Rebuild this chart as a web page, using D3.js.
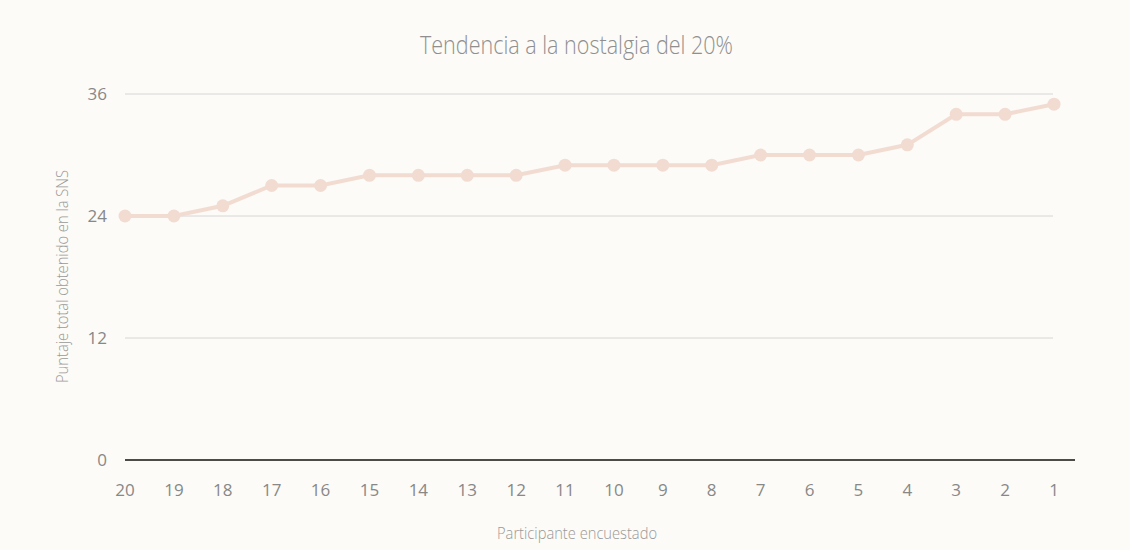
<!DOCTYPE html>
<html>
<head>
<meta charset="utf-8">
<script src="https://cdn.jsdelivr.net/npm/d3@7"></script>
<style>
  body { margin: 0; background: #fcfbf7; }
  text { font-family: "Open Sans", sans-serif; }
</style>
</head>
<body>
<svg id="chart" width="1130" height="550"></svg>
<script>
// participants, ordered as in the picture
var participants = ["20","19","18","17","16","15","14","13","12","11","10","9","8","7","6","5","4","3","2","1"];
var scores = [24,24,25,27,27,28,28,28,28,29,29,29,29,30,30,30,31,34,34,35];
var yTicks = [0, 12, 24, 36];

var title = "Tendencia a la nostalgia del 20%",
    xTitle = "Participante encuestado",
    yTitle = "Puntaje total obtenido en la SNS";

var svg = d3.select("#chart");

svg.append("rect")
    .attr("width", 1130)
    .attr("height", 550)
    .attr("fill", "#fcfbf7");

var x = d3.scalePoint()
    .domain(participants)
    .range([125, 1054]);

var y = d3.scaleLinear()
    .domain([0, 36])
    .range([460, 94]);

// gridlines
svg.append("g")
  .selectAll("line")
  .data(yTicks.filter(function(d) { return d > 0; }))
  .join("line")
    .attr("x1", 125)
    .attr("x2", 1053)
    .attr("y1", function(d) { return y(d); })
    .attr("y2", function(d) { return y(d); })
    .attr("stroke", "#d6d6d6")
    .attr("stroke-width", 1);

// baseline
svg.append("line")
    .attr("x1", 125)
    .attr("x2", 1075)
    .attr("y1", y(0))
    .attr("y2", y(0))
    .attr("stroke", "#111")
    .attr("stroke-width", 1.3);

// y tick labels
svg.append("g")
  .selectAll("text")
  .data(yTicks)
  .join("text")
    .attr("x", 107)
    .attr("y", function(d) { return y(d); })
    .attr("dy", "0.35em")
    .attr("text-anchor", "end")
    .attr("fill", "#888")
    .style("font-size", "17px")
    .text(function(d) { return d; });

// x tick labels
svg.append("g")
  .selectAll("text")
  .data(participants)
  .join("text")
    .attr("x", function(d) { return x(d); })
    .attr("y", 490)
    .attr("dy", "0.35em")
    .attr("text-anchor", "middle")
    .attr("fill", "#888")
    .style("font-size", "17px")
    .text(function(d) { return d; });

var line = d3.line()
    .x(function(d, i) { return x(participants[i]); })
    .y(function(d) { return y(d); });

svg.append("path")
    .datum(scores)
    .attr("d", line)
    .attr("fill", "none")
    .attr("stroke", "#f2dcd2")
    .attr("stroke-width", 4);

svg.append("g")
  .selectAll("circle")
  .data(scores)
  .join("circle")
    .attr("cx", function(d, i) { return x(participants[i]); })
    .attr("cy", function(d) { return y(d); })
    .attr("r", 6.5)
    .attr("fill", "#f2dcd2");

// titles: condensed to the narrow face of the original
svg.append("text")
    .attr("x", 420)
    .attr("y", 45)
    .attr("dy", "0.35em")
    .attr("textLength", 313)
    .attr("lengthAdjust", "spacingAndGlyphs")
    .attr("fill", "#8f8f8f")
    .style("font-size", "25px")
    .style("font-weight", 300)
    .text(title);

svg.append("text")
    .attr("x", 497)
    .attr("y", 533)
    .attr("dy", "0.35em")
    .attr("textLength", 160)
    .attr("lengthAdjust", "spacingAndGlyphs")
    .attr("fill", "#999")
    .style("font-size", "17px")
    .style("font-weight", 300)
    .text(xTitle);

svg.append("text")
    .attr("transform", "translate(62,383) rotate(-90)")
    .attr("dy", "0.35em")
    .attr("textLength", 213)
    .attr("lengthAdjust", "spacingAndGlyphs")
    .attr("fill", "#999")
    .style("font-size", "17px")
    .style("font-weight", 300)
    .text(yTitle);
</script>
</body>
</html>
